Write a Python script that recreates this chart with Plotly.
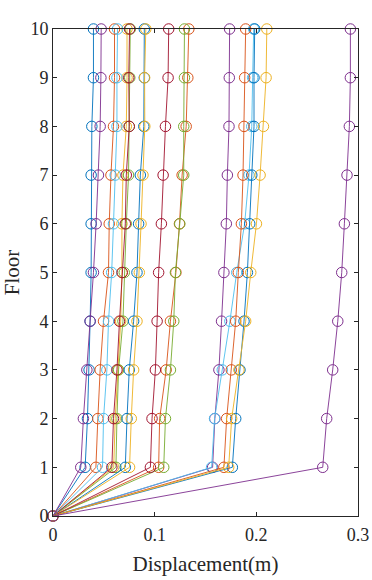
import plotly.graph_objects as go

floors = list(range(0, 11))

# displacement (m) per floor 1..10 (floor 0 = 0)
blue_a = [0.0316, 0.0339, 0.0355, 0.0365, 0.0375, 0.0375, 0.0375, 0.0382, 0.0398, 0.0398]
orange_a = [0.0422, 0.0441, 0.0464, 0.0497, 0.0546, 0.0553, 0.0570, 0.0595, 0.0605, 0.0605]
yellow_a = [0.0597, 0.0612, 0.0637, 0.0666, 0.0678, 0.0678, 0.0688, 0.0721, 0.0728, 0.0728]
purple_a = [0.0273, 0.0299, 0.0333, 0.0365, 0.0398, 0.0424, 0.0447, 0.0464, 0.0471, 0.0474]
green_a = [0.0619, 0.0629, 0.0645, 0.0688, 0.0701, 0.0721, 0.0743, 0.0750, 0.0755, 0.0760]
lblue_a = [0.0487, 0.0497, 0.0530, 0.0546, 0.0577, 0.0595, 0.0612, 0.0629, 0.0629, 0.0635]
dred_a = [0.0579, 0.0595, 0.0629, 0.0654, 0.0681, 0.0711, 0.0721, 0.0750, 0.0745, 0.0753]
blue_b = [0.0711, 0.0728, 0.0750, 0.0793, 0.0826, 0.0842, 0.0859, 0.0893, 0.0898, 0.0898]
orange_b = [0.1039, 0.1049, 0.1113, 0.1155, 0.1209, 0.1244, 0.1270, 0.1310, 0.1326, 0.1336]
yellow_b = [0.0753, 0.0770, 0.0793, 0.0826, 0.0849, 0.0866, 0.0885, 0.0903, 0.0901, 0.0913]
purple_b = [0.1570, 0.1592, 0.1632, 0.1658, 0.1681, 0.1705, 0.1715, 0.1731, 0.1734, 0.1737]
green_b = [0.1089, 0.1106, 0.1155, 0.1188, 0.1204, 0.1247, 0.1286, 0.1286, 0.1293, 0.1293]
lblue_b = [0.1560, 0.1589, 0.1665, 0.1740, 0.1807, 0.1885, 0.1928, 0.1955, 0.1964, 0.1974]
dred_b = [0.0958, 0.0974, 0.1007, 0.1024, 0.1039, 0.1066, 0.1083, 0.1106, 0.1132, 0.1138]
blue_c = [0.1764, 0.1797, 0.1839, 0.1879, 0.1912, 0.1935, 0.1955, 0.1977, 0.1977, 0.1984]
orange_c = [0.1681, 0.1708, 0.1754, 0.1797, 0.1823, 0.1853, 0.1869, 0.1879, 0.1885, 0.1895]
yellow_c = [0.1728, 0.1757, 0.1829, 0.1895, 0.1945, 0.2001, 0.2037, 0.2070, 0.2096, 0.2103]
purple_c = [0.2653, 0.2692, 0.2751, 0.2801, 0.2840, 0.2866, 0.2892, 0.2915, 0.2925, 0.2925]

series = [blue_a, orange_a, yellow_a, purple_a, green_a, lblue_a, dred_a,
          blue_b, orange_b, yellow_b, purple_b, green_b, lblue_b, dred_b,
          blue_c, orange_c, yellow_c, purple_c]

colors = ["#0072BD", "#D95319", "#EDB120", "#7E2F8E", "#77AC30", "#4DBEEE", "#A2142F"]

x_ticks = [0, 0.1, 0.2, 0.3]
x_ticklabels = ["0", "0.1", "0.2", "0.3"]
y_ticks = list(range(0, 11))

SERIF = "Liberation Serif, Times New Roman, serif"

fig = go.Figure()
for i, s in enumerate(series):
    c = colors[i % 7]
    fig.add_trace(go.Scatter(
        x=[0.0] + s, y=floors, mode="lines+markers",
        line=dict(color=c, width=0.9),
        marker=dict(symbol="circle-open", size=10.5, color=c, line=dict(width=1)),
        cliponaxis=False, showlegend=False, hoverinfo="skip"))

axis_common = dict(showline=True, linecolor="#262626", linewidth=1, mirror="ticks",
                   ticks="inside", ticklen=4, tickcolor="#262626", showgrid=False,
                   zeroline=False, automargin=False,
                   tickfont=dict(family=SERIF, size=18, color="#262626"))

fig.update_layout(
    width=372, height=580,
    margin=dict(l=53, r=14, t=29, b=64, autoexpand=False),
    font=dict(family=SERIF, color="#262626"),
    paper_bgcolor="white", plot_bgcolor="white",
    xaxis=dict(range=[0, 0.3], tickvals=x_ticks, ticktext=x_ticklabels, ticklabelstandoff=2,
               title=dict(text="Displacement(m)", font=dict(family=SERIF, size=21, color="#262626"), standoff=12),
               **axis_common),
    yaxis=dict(range=[0, 10], tickvals=y_ticks,
               title=dict(text="Floor", font=dict(family=SERIF, size=21, color="#262626"), standoff=8),
               **axis_common),
)

fig.write_html("out.html", config={"displayModeBar": False},
               post_script="document.body.style.margin='0';document.body.style.overflow='hidden';")
